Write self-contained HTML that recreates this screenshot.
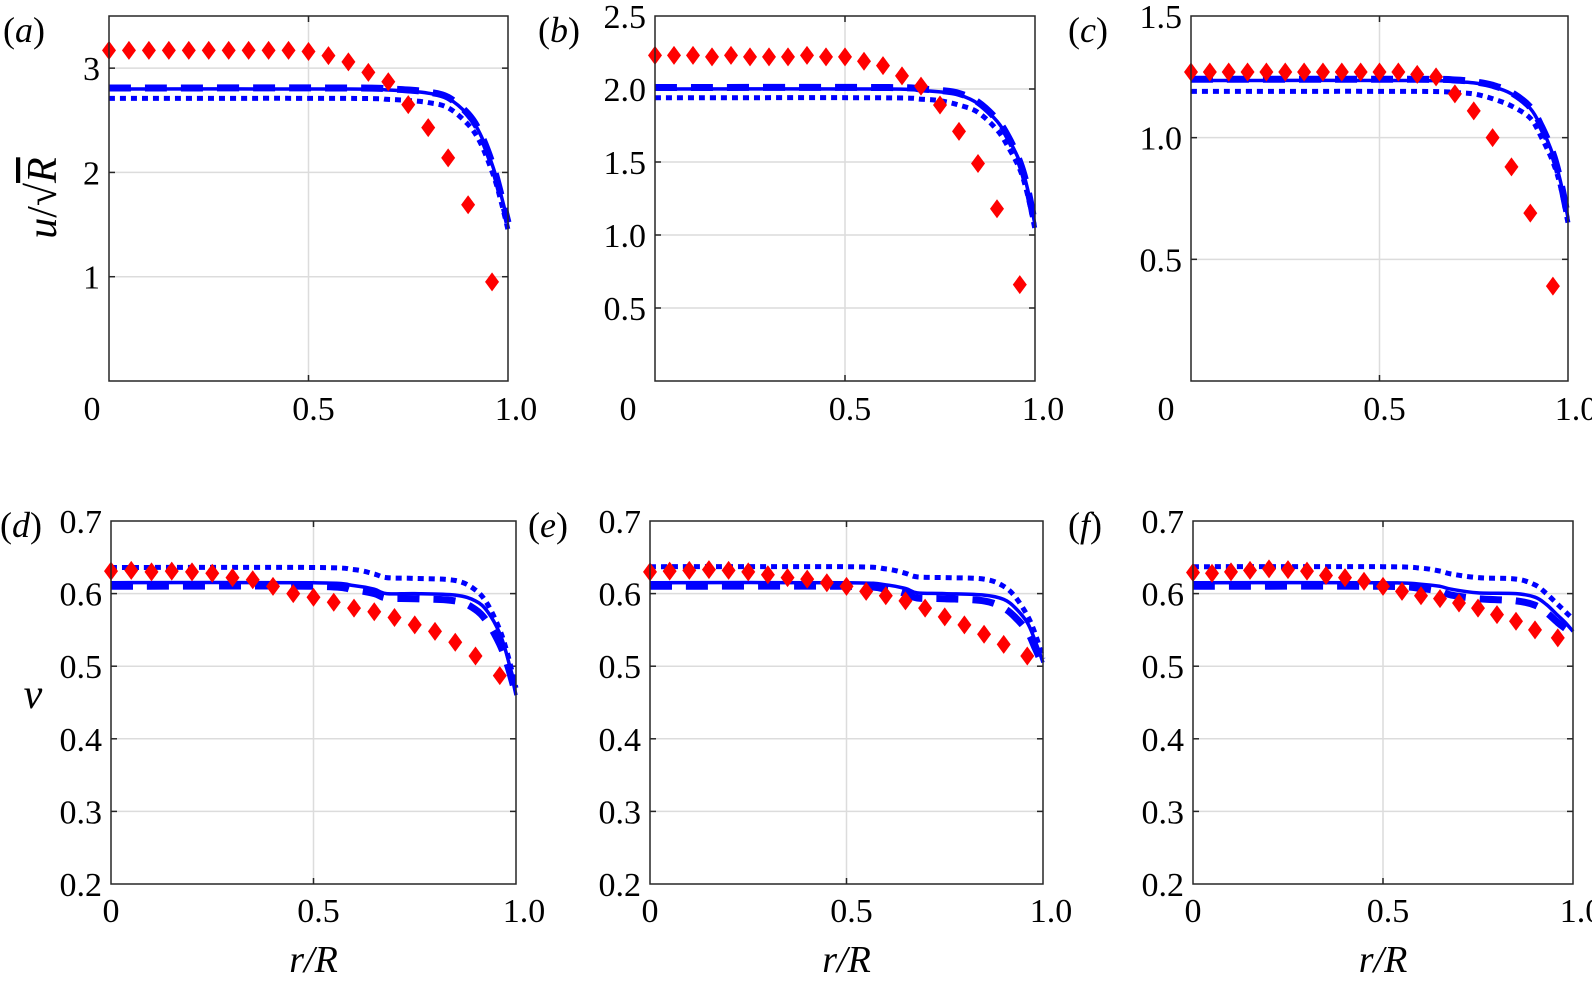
<!DOCTYPE html>
<html><head><meta charset="utf-8"><style>
html,body{margin:0;padding:0;background:#fff;}
svg{display:block;}
text{font-family:"Liberation Serif","Times New Roman",serif;fill:#000;}
</style></head><body>
<svg id="fig" width="1592" height="985" viewBox="0 0 1592 985" xmlns="http://www.w3.org/2000/svg" font-family="Liberation Serif, serif"></svg>
<script>
// ---- data ----
const redX = [0,0.05,0.1,0.15,0.2,0.25,0.3,0.35,0.4,0.45,0.5,0.55,0.6,0.65,0.7,0.75,0.8,0.85,0.9,0.96];
const redA = [3.17,3.17,3.17,3.17,3.17,3.17,3.17,3.17,3.17,3.17,3.16,3.12,3.06,2.96,2.87,2.65,2.43,2.14,1.69,0.95];
const redB = [2.23,2.23,2.23,2.22,2.23,2.22,2.22,2.22,2.23,2.22,2.22,2.19,2.16,2.09,2.02,1.89,1.71,1.49,1.18,0.66];
const redC = [1.27,1.27,1.27,1.27,1.27,1.27,1.27,1.27,1.27,1.27,1.27,1.27,1.26,1.25,1.18,1.11,1.0,0.88,0.69,0.39];
const redD = [0.631,0.632,0.63,0.631,0.63,0.628,0.622,0.619,0.61,0.6,0.595,0.588,0.58,0.575,0.567,0.557,0.548,0.533,0.514,0.487];
const redE = [0.63,0.631,0.632,0.633,0.632,0.63,0.626,0.622,0.62,0.615,0.61,0.603,0.597,0.59,0.58,0.568,0.557,0.544,0.53,0.514];
const redF = [0.629,0.628,0.63,0.632,0.634,0.633,0.631,0.625,0.622,0.617,0.61,0.603,0.597,0.593,0.587,0.58,0.571,0.562,0.55,0.539];

const topX = [0,0.6,0.7,0.75,0.8,0.85,0.9,0.93,0.96,0.98,1.0];
const solidA = [2.80,2.80,2.79,2.78,2.76,2.71,2.55,2.37,2.08,1.82,1.52];
const dashA  = [2.81,2.81,2.80,2.79,2.77,2.72,2.56,2.38,2.09,1.82,1.52];
const dotA   = [2.71,2.71,2.70,2.69,2.67,2.62,2.46,2.29,2.01,1.76,1.45];
const solidB = [2.0,2.0,1.99,1.98,1.96,1.9,1.78,1.66,1.5,1.32,1.07];
const dashB  = [2.01,2.01,2.0,1.99,1.97,1.91,1.79,1.67,1.5,1.32,1.07];
const dotB   = [1.94,1.94,1.93,1.92,1.89,1.84,1.72,1.6,1.45,1.28,1.04];
const solidC = [1.235,1.235,1.23,1.225,1.21,1.18,1.12,1.04,0.93,0.82,0.67];
const dashC  = [1.24,1.24,1.237,1.23,1.215,1.185,1.125,1.045,0.935,0.82,0.67];
const dotC   = [1.19,1.19,1.185,1.18,1.16,1.13,1.08,1.0,0.9,0.8,0.65];

const botX = [0,0.5,0.6,0.65,0.68,0.75,0.85,0.9,0.93,0.96,0.98,1.0];
const solidD = [0.615,0.615,0.611,0.606,0.600,0.600,0.598,0.59,0.575,0.545,0.51,0.46];
const dashD  = [0.61,0.61,0.605,0.6,0.594,0.593,0.59,0.578,0.56,0.53,0.5,0.46];
const dotD   = [0.636,0.636,0.633,0.627,0.622,0.621,0.618,0.605,0.585,0.55,0.515,0.47];
const solidE = [0.615,0.615,0.612,0.607,0.601,0.600,0.598,0.592,0.58,0.56,0.535,0.505];
const dashE  = [0.61,0.61,0.606,0.6,0.594,0.593,0.59,0.58,0.567,0.548,0.525,0.5];
const dotE   = [0.637,0.637,0.634,0.628,0.623,0.622,0.62,0.61,0.595,0.57,0.545,0.51];
const solidF = [0.615,0.615,0.613,0.61,0.606,0.601,0.6,0.595,0.585,0.57,0.56,0.548];
const dashF  = [0.61,0.61,0.607,0.603,0.598,0.593,0.59,0.584,0.574,0.56,0.552,0.545];
const dotF   = [0.637,0.637,0.635,0.631,0.627,0.622,0.62,0.612,0.6,0.585,0.575,0.565];

const xTicks = [0,0.5,1.0];
const xTickLabels = ["0","0.5","1.0"];
const yTicksA = [1,2,3]; const yLabA = ["1","2","3"];
const yTicksB = [0.5,1.0,1.5,2.0,2.5]; const yLabB = ["0.5","1.0","1.5","2.0","2.5"];
const yTicksC = [0.5,1.0,1.5]; const yLabC = ["0.5","1.0","1.5"];
const yTicksV = [0.2,0.3,0.4,0.5,0.6,0.7]; const yLabV = ["0.2","0.3","0.4","0.5","0.6","0.7"];

const panels = [
 {id:'a',L:109,R:508,T:16,B:381,y0:0,y1:3.5,yt:yTicksA,yl:yLabA,red:redA,lx:topX,s:solidA,d:dashA,o:dotA,labX:3,labY:42,x0off:-17,xlY:420},
 {id:'b',L:655,R:1035,T:16,B:381,y0:0,y1:2.5,yt:yTicksB,yl:yLabB,red:redB,lx:topX,s:solidB,d:dashB,o:dotB,labX:538,labY:42,x0off:-27,xlY:420},
 {id:'c',L:1191,R:1568,T:16,B:381,y0:0,y1:1.5,yt:yTicksC,yl:yLabC,red:redC,lx:topX,s:solidC,d:dashC,o:dotC,labX:1068,labY:42,x0off:-25,xlY:420},
 {id:'d',L:111,R:516,T:521,B:884,y0:0.2,y1:0.7,yt:yTicksV,yl:yLabV,red:redD,lx:botX,s:solidD,d:dashD,o:dotD,labX:0,labY:537,x0off:0,xlY:922},
 {id:'e',L:650,R:1043,T:521,B:884,y0:0.2,y1:0.7,yt:yTicksV,yl:yLabV,red:redE,lx:botX,s:solidE,d:dashE,o:dotE,labX:528,labY:537,x0off:0,xlY:922},
 {id:'f',L:1193,R:1573,T:521,B:884,y0:0.2,y1:0.7,yt:yTicksV,yl:yLabV,red:redF,lx:botX,s:solidF,d:dashF,o:dotF,labX:1068,labY:537,x0off:0,xlY:922}
];

const NS='http://www.w3.org/2000/svg';
const svg=document.getElementById('fig');
const FF='Liberation Serif, Times New Roman, serif';
function mk(tag,attrs,parent){const e=document.createElementNS(NS,tag);for(const k in attrs)e.setAttribute(k,attrs[k]);if(tag==='text')e.setAttribute('font-family',FF);(parent||svg).appendChild(e);return e;}
function smooth(P){let d='M'+P[0][0].toFixed(1)+','+P[0][1].toFixed(1);
  for(let i=0;i<P.length-1;i++){const p0=P[Math.max(0,i-1)],p1=P[i],p2=P[i+1],p3=P[Math.min(P.length-1,i+2)];
    const c1=[p1[0]+(p2[0]-p0[0])/6,p1[1]+(p2[1]-p0[1])/6],c2=[p2[0]-(p3[0]-p1[0])/6,p2[1]-(p3[1]-p1[1])/6];
    d+=' C'+c1.map(v=>v.toFixed(1)).join(',')+' '+c2.map(v=>v.toFixed(1)).join(',')+' '+p2.map(v=>v.toFixed(1)).join(',');}
  return d;}

panels.forEach(p=>{
  const g=mk('g',{});
  
  
  const sx=v=>p.L+(p.R-p.L)*v;
  const sy=v=>p.B-(p.B-p.T)*(v-p.y0)/(p.y1-p.y0);
  p.yt.forEach(t=>{ if(t>p.y0&&t<p.y1){const l=mk('line',{x1:p.L,x2:p.R,y1:sy(t),y2:sy(t),stroke:'#dcdcdc','stroke-width':1.5},g);
    
    
    mk('line',{x1:p.L,x2:p.L+6,y1:sy(t),y2:sy(t),stroke:'#262626','stroke-width':1.5},g);
    mk('line',{x1:p.R-6,x2:p.R,y1:sy(t),y2:sy(t),stroke:'#262626','stroke-width':1.5},g);}});
  const gx=mk('line',{x1:sx(0.5),x2:sx(0.5),y1:p.T,y2:p.B,stroke:'#dcdcdc','stroke-width':1.5},g);
  
  
  mk('line',{x1:sx(0.5),x2:sx(0.5),y1:p.B-6,y2:p.B,stroke:'#262626','stroke-width':1.5},g);
  mk('line',{x1:sx(0.5),x2:sx(0.5),y1:p.T,y2:p.T+6,stroke:'#262626','stroke-width':1.5},g);
  const pth=arr=>smooth(arr.map((v,i)=>[sx(p.lx[i]),sy(v)]));
  const ls=mk('path',{d:pth(p.s),fill:'none',stroke:'#0000ff','stroke-width':3.5,'stroke-linejoin':'round'},g);
  
  
  const ld=mk('path',{d:pth(p.d),fill:'none',stroke:'#0000ff','stroke-width':7,'stroke-dasharray':'22 14'},g);
  
  
  const lo=mk('path',{d:pth(p.o),fill:'none',stroke:'#0000ff','stroke-width':5,'stroke-dasharray':'6 5'},g);
  
  
  p.red.forEach((v,i)=>{const cx=sx(redX[i]),cy=sy(v);
    const d=mk('polygon',{points:`${cx},${cy-9.5} ${cx+7},${cy} ${cx},${cy+9.5} ${cx-7},${cy}`,fill:'#ff0000'},g);
    
    });
  const bx=mk('rect',{x:p.L,y:p.T,width:p.R-p.L,height:p.B-p.T,fill:'none',stroke:'#262626','stroke-width':1.5},g);
  
  
  p.yt.forEach((t,i)=>{const tx=mk('text',{x:p.L-9,y:sy(t)+12,'text-anchor':'end','font-size':34},g);tx.textContent=p.yl[i];
    
    });
  xTicks.forEach((t,i)=>{let x=sx(t)+(i===0?p.x0off:(i===2?8:5));
    const tx=mk('text',{x:x,y:p.xlY,'text-anchor':'middle','font-size':34},g);tx.textContent=xTickLabels[i];
    
    });
  const pl=mk('text',{x:p.labX,y:p.labY,'font-size':36},g);
  pl.innerHTML='(<tspan font-style="italic">'+p.id+'</tspan>)';
  
  
  if(p.B>800){const xt=mk('text',{x:(p.L+p.R)/2,y:972,'text-anchor':'middle','font-size':38,'font-style':'italic'},g);
    xt.textContent='r/R';
    
    }
});
const yt1=mk('text',{x:0,y:0,'font-size':42,'text-anchor':'middle',transform:'translate(56,198) rotate(-90)'});
yt1.innerHTML='<tspan font-style="italic">u</tspan>/√<tspan font-style="italic" text-decoration="overline">R</tspan>';


const yt2=mk('text',{x:33,y:708,'font-size':42,'font-style':'italic','text-anchor':'middle'});
yt2.textContent='ν';


</script>
</body></html>
